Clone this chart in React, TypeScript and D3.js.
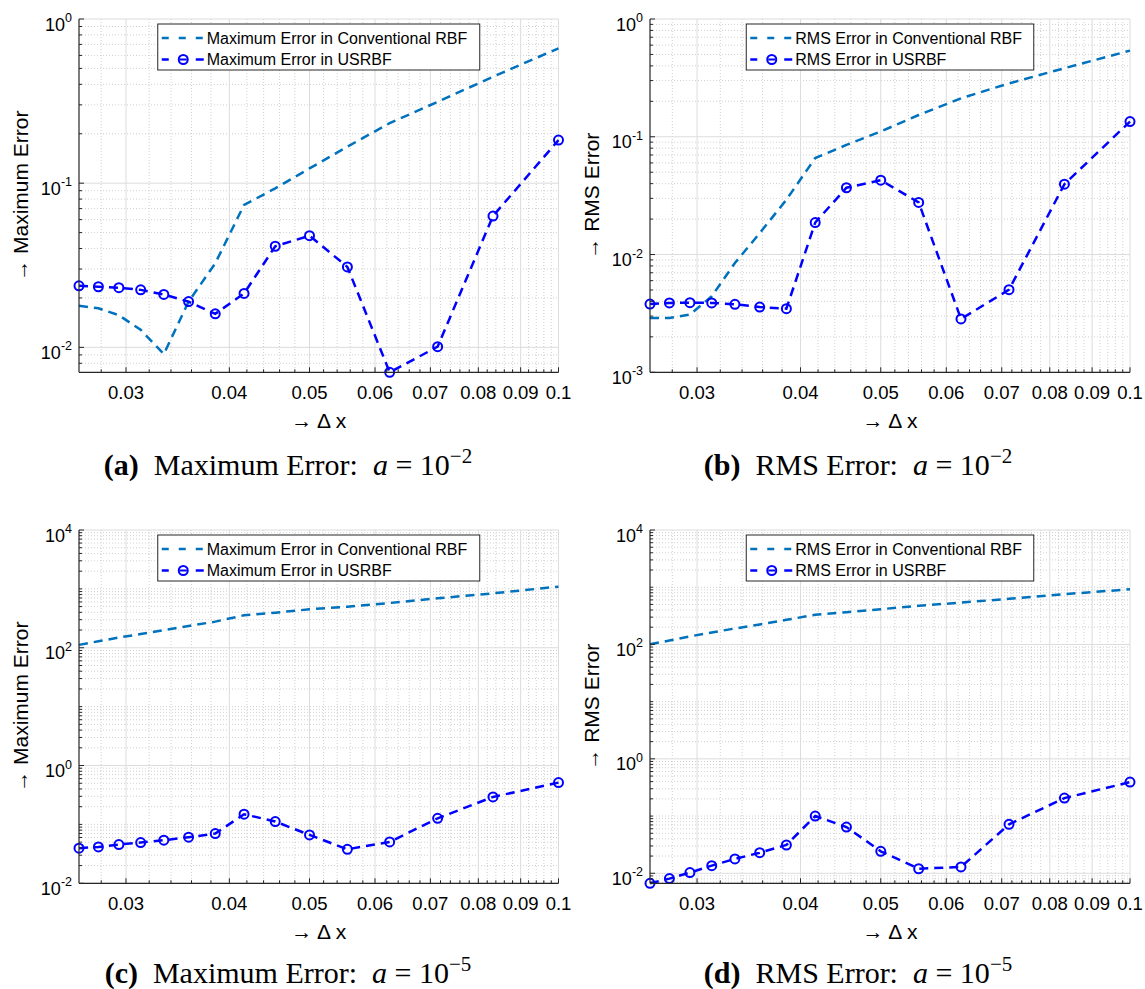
import React from 'react';
import * as d3 from 'd3';

// Grid spacing Δx (1/38 ... 1/10)
const dx = [0.02632, 0.02778, 0.02941, 0.03125, 0.03333, 0.03571, 0.03846, 0.04167, 0.04545, 0.05, 0.05556, 0.0625, 0.07143, 0.08333, 0.1];

// (a) Maximum error, a = 1e-2
const maxConvA = [0.0179, 0.0173, 0.0157, 0.0128, 0.0091, 0.019, 0.0325, 0.0737, 0.093, 0.123, 0.167, 0.232, 0.313, 0.445, 0.663];
const maxUsrA = [0.0237, 0.0234, 0.0231, 0.0224, 0.021, 0.019, 0.016, 0.0213, 0.0413, 0.0479, 0.0309, 0.00705, 0.0101, 0.0631, 0.183];
// (b) RMS error, a = 1e-2
const rmsConvB = [0.00289, 0.00289, 0.00309, 0.00442, 0.00847, 0.0152, 0.0292, 0.0659, 0.0853, 0.111, 0.153, 0.212, 0.284, 0.382, 0.539];
const rmsUsrB = [0.0038, 0.00388, 0.0039, 0.00388, 0.00378, 0.00358, 0.00347, 0.0187, 0.0369, 0.0428, 0.0277, 0.00284, 0.00503, 0.0396, 0.1346];
// (c) Maximum error, a = 1e-5
const maxConvC = [112, 129, 149, 171, 200, 234, 278, 356, 395, 450, 499, 576, 692, 841, 1091];
const maxUsrC = [0.0394, 0.0415, 0.0455, 0.0492, 0.0539, 0.0606, 0.0699, 0.149, 0.112, 0.0663, 0.0378, 0.0505, 0.127, 0.293, 0.513];
// (d) RMS error, a = 1e-5
const rmsConvD = [101, 117, 138, 162, 190, 223, 269, 329, 366, 413, 472, 540, 626, 755, 922];
const rmsUsrD = [0.00668, 0.00807, 0.0103, 0.0136, 0.0178, 0.0229, 0.0312, 0.1, 0.0643, 0.0242, 0.012, 0.0129, 0.0716, 0.206, 0.392];

const xTicks = [0.03, 0.04, 0.05, 0.06, 0.07, 0.08, 0.09, 0.1];
const xTickLabels = ['0.03', '0.04', '0.05', '0.06', '0.07', '0.08', '0.09', '0.1'];

const yMajorA = [1, 0.1, 0.01];
const yExpA = ['0', '-1', '-2'];
const yMajorB = [1, 0.1, 0.01, 0.001];
const yExpB = ['0', '-1', '-2', '-3'];
const yMajorCD = [1e4, 1e2, 1, 1e-2];
const yExpCD = ['4', '2', '0', '-2'];

const SANS = 'Liberation Sans, Arial, Helvetica, sans-serif';
const SERIF = 'Liberation Serif, Times New Roman, serif';
const CONV_COLOR = '#0072BD';
const USR_COLOR = '#0000FF';
const AXIS = '#262626';

type PanelCfg = {
  left: number; right: number; top: number; bottom: number;
  yMin: number; yMax: number;
  yMajor: number[]; yExp: string[];
  conv: number[]; usr: number[];
  yTitle: string; legConv: string; legUsr: string; legW: number;
  capLabel: string; capText: string; capExp: string; capX: number; capY: number;
};

const panels: PanelCfg[] = [
  { left: 79, right: 558.5, top: 19, bottom: 372.3, yMin: 0.00705, yMax: 1, yMajor: yMajorA, yExp: yExpA,
    conv: maxConvA, usr: maxUsrA, yTitle: '→ Maximum Error', legConv: 'Maximum Error in Conventional RBF',
    legUsr: 'Maximum Error in USRBF', legW: 322, capLabel: '(a)', capText: 'Maximum Error:', capExp: '−2', capX: 288, capY: 475 },
  { left: 650, right: 1130, top: 19, bottom: 372.3, yMin: 0.001, yMax: 1, yMajor: yMajorB, yExp: yExpB,
    conv: rmsConvB, usr: rmsUsrB, yTitle: '→ RMS Error', legConv: 'RMS Error in Conventional RBF',
    legUsr: 'RMS Error in USRBF', legW: 287.5, capLabel: '(b)', capText: 'RMS Error:', capExp: '−2', capX: 858, capY: 475 },
  { left: 79, right: 558.5, top: 530, bottom: 883.3, yMin: 0.01, yMax: 1e4, yMajor: yMajorCD, yExp: yExpCD,
    conv: maxConvC, usr: maxUsrC, yTitle: '→ Maximum Error', legConv: 'Maximum Error in Conventional RBF',
    legUsr: 'Maximum Error in USRBF', legW: 322, capLabel: '(c)', capText: 'Maximum Error:', capExp: '−5', capX: 288, capY: 983 },
  { left: 650, right: 1130, top: 530, bottom: 883.3, yMin: 0.00668, yMax: 1e4, yMajor: yMajorCD, yExp: yExpCD,
    conv: rmsConvD, usr: rmsUsrD, yTitle: '→ RMS Error', legConv: 'RMS Error in Conventional RBF',
    legUsr: 'RMS Error in USRBF', legW: 287.5, capLabel: '(d)', capText: 'RMS Error:', capExp: '−5', capX: 858, capY: 983 },
];

const near = (a: number, b: number) => Math.abs(Math.log10(a) - Math.log10(b)) < 1e-6;

function Panel({ p }: { p: PanelCfg }) {
  const x = d3.scaleLog().domain([dx[0], 0.1]).range([p.left, p.right]);
  const y = d3.scaleLog().domain([p.yMin, p.yMax]).range([p.bottom, p.top]);

  const xMinor = d3.range(14, 50).map((k) => k * 0.002)
    .filter((v) => v >= dx[0] && v <= 0.1 && Math.abs(v * 100 - Math.round(v * 100)) > 1e-6);

  const yMinor: number[] = [];
  for (let n = Math.floor(Math.log10(p.yMin)); n <= Math.ceil(Math.log10(p.yMax)); n++) {
    for (let k = 1; k <= 9; k++) {
      const v = k * Math.pow(10, n);
      if (v >= p.yMin * 0.9999 && v <= p.yMax * 1.0001 && !p.yMajor.some((m) => near(m, v))) yMinor.push(v);
    }
  }

  const line = d3.line<number>().x((_, i) => x(dx[i])).y((d) => y(d));
  const cx = (p.left + p.right) / 2;
  const cy = (p.top + p.bottom) / 2;
  const lx = cx - p.legW / 2;
  const ly = p.top + 5;
  const r1 = ly + 14;
  const r2 = ly + 35.5;

  return (
    <g>
      {/* minor grid */}
      {xMinor.map((v, i) => (
        <line key={'xm' + i} x1={x(v)} x2={x(v)} y1={p.top} y2={p.bottom} stroke="#c4c4c4" strokeWidth={0.8} strokeDasharray="1,2" />
      ))}
      {yMinor.map((v, i) => (
        <line key={'ym' + i} x1={p.left} x2={p.right} y1={y(v)} y2={y(v)} stroke="#c4c4c4" strokeWidth={0.8} strokeDasharray="1,2" />
      ))}
      {/* major grid */}
      {xTicks.map((v, i) => (
        <line key={'xg' + i} x1={x(v)} x2={x(v)} y1={p.top} y2={p.bottom} stroke="#dcdcdc" strokeWidth={1} />
      ))}
      {p.yMajor.map((v, i) => (
        <line key={'yg' + i} x1={p.left} x2={p.right} y1={y(v)} y2={y(v)} stroke="#dcdcdc" strokeWidth={1} />
      ))}

      {/* data */}
      <path d={line(p.conv) || ''} fill="none" stroke={CONV_COLOR} strokeWidth={2.5} strokeDasharray="9,6" />
      <path d={line(p.usr) || ''} fill="none" stroke={USR_COLOR} strokeWidth={2.5} strokeDasharray="9,6" />
      {p.usr.map((v, i) => (
        <circle key={'m' + i} cx={x(dx[i])} cy={y(v)} r={4.5} fill="none" stroke={USR_COLOR} strokeWidth={2} />
      ))}

      {/* axes */}
      <line x1={p.left} x2={p.left} y1={p.top} y2={p.bottom} stroke={AXIS} strokeWidth={1.2} />
      <line x1={p.left} x2={p.right} y1={p.bottom} y2={p.bottom} stroke={AXIS} strokeWidth={1.2} />
      {xTicks.map((v, i) => (
        <line key={'xt' + i} x1={x(v)} x2={x(v)} y1={p.bottom} y2={p.bottom - 5} stroke={AXIS} strokeWidth={1} />
      ))}
      {xMinor.map((v, i) => (
        <line key={'xmt' + i} x1={x(v)} x2={x(v)} y1={p.bottom} y2={p.bottom - 3} stroke={AXIS} strokeWidth={1} />
      ))}
      {p.yMajor.map((v, i) => (
        <line key={'yt' + i} x1={p.left} x2={p.left + 5} y1={y(v)} y2={y(v)} stroke={AXIS} strokeWidth={1} />
      ))}
      {yMinor.map((v, i) => (
        <line key={'ymt' + i} x1={p.left} x2={p.left + 3} y1={y(v)} y2={y(v)} stroke={AXIS} strokeWidth={1} />
      ))}

      {/* tick labels */}
      {xTicks.map((v, i) => (
        <text key={'xl' + i} x={x(v)} y={p.bottom + 27} textAnchor="middle" fontFamily={SANS} fontSize={18.5} fill="#000">
          {xTickLabels[i]}
        </text>
      ))}
      {p.yMajor.map((v, i) => (
        <text key={'yl' + i} x={p.left - 7} y={y(v) + 11.5} textAnchor="end" fontFamily={SANS} fill="#000">
          <tspan fontSize={18}>10</tspan>
          <tspan fontSize={12.5} dy={-8.5}>{p.yExp[i]}</tspan>
        </text>
      ))}

      {/* axis titles */}
      <text transform={`translate(${p.left - 51},${cy}) rotate(-90)`} textAnchor="middle" fontFamily={SANS} fontSize={21} fill="#000">
        {p.yTitle}
      </text>
      <text x={cx} y={p.bottom + 55.7} textAnchor="middle" fontFamily={SANS} fontSize={21} fill="#000">
        → Δ x
      </text>

      {/* legend */}
      <rect x={lx} y={ly} width={p.legW} height={46} fill="#fff" stroke={AXIS} strokeWidth={1} />
      <line x1={lx + 4} x2={lx + 46} y1={r1} y2={r1} stroke={CONV_COLOR} strokeWidth={2.5} strokeDasharray="7,10" />
      <line x1={lx + 4} x2={lx + 11} y1={r2} y2={r2} stroke={USR_COLOR} strokeWidth={2.5} />
      <line x1={lx + 38} x2={lx + 46} y1={r2} y2={r2} stroke={USR_COLOR} strokeWidth={2.5} />
      <circle cx={lx + 25.5} cy={r2} r={4.5} fill="none" stroke={USR_COLOR} strokeWidth={2} />
      <line x1={lx + 22} x2={lx + 29} y1={r2} y2={r2} stroke={USR_COLOR} strokeWidth={2} />
      <text x={lx + 49} y={r1 + 5.7} fontFamily={SANS} fontSize={16} fill="#000">{p.legConv}</text>
      <text x={lx + 49} y={r2 + 5.7} fontFamily={SANS} fontSize={16} fill="#000">{p.legUsr}</text>

      {/* caption */}
      <text x={p.capX} y={p.capY} textAnchor="middle" fontFamily={SERIF} fontSize={30} fill="#000">
        <tspan fontWeight="bold">{p.capLabel}</tspan>
        <tspan>{'\u2002' + p.capText + '\u2002'}</tspan>
        <tspan fontStyle="italic">a</tspan>
        <tspan>{' = 10'}</tspan>
        <tspan fontSize={21} dy={-12}>{p.capExp}</tspan>
      </text>
    </g>
  );
}

export default function App() {
  return (
    <svg width={1145} height={989} style={{ position: 'absolute', left: 0, top: 0, background: '#fff' }}>
      <rect width={1145} height={989} fill="#fff" />
      {panels.map((p, i) => (
        <Panel key={i} p={p} />
      ))}
    </svg>
  );
}
